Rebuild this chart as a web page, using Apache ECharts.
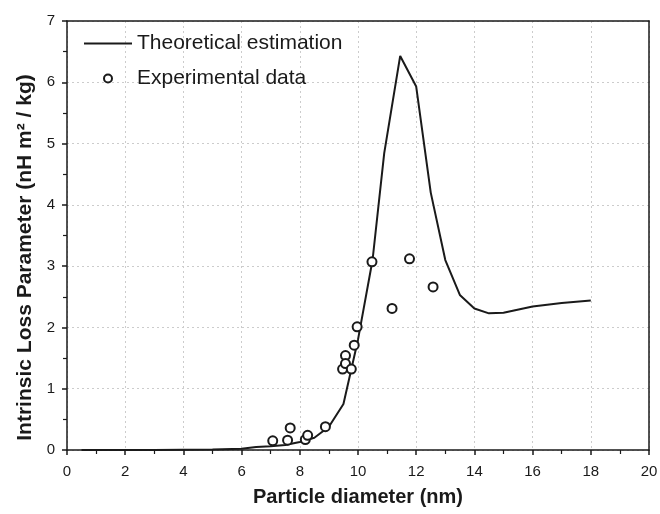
<!DOCTYPE html>
<html><head><meta charset="utf-8">
<script src="https://cdn.jsdelivr.net/npm/echarts@6/dist/echarts.min.js"></script>
<style>html,body{margin:0;padding:0;background:#fff}#c{width:660px;height:514px}</style>
</head><body><div id="c"></div>
<script>
// Theoretical estimation curve
const theoX = [0.5, 1, 2, 3, 4, 5, 6, 6.5, 7, 7.5, 8, 8.5, 9, 9.5, 10, 10.5, 10.9, 11.45, 12, 12.5, 13, 13.5, 14, 14.5, 15, 16, 17, 18];
const theoY = [0.0, 0.0, 0.0, 0.0, 0.005, 0.01, 0.02, 0.05, 0.06, 0.08, 0.13, 0.2, 0.38, 0.75, 1.8, 3.1, 4.84, 6.43, 5.93, 4.2, 3.1, 2.53, 2.31, 2.23, 2.24, 2.34, 2.4, 2.44];
// Experimental data
const expX = [7.07, 7.58, 7.67, 8.19, 8.27, 8.88, 9.47, 9.57, 9.57, 9.77, 9.87, 9.97, 10.48, 11.17, 11.77, 12.58];
const expY = [0.15, 0.16, 0.36, 0.17, 0.24, 0.38, 1.32, 1.54, 1.41, 1.32, 1.71, 2.01, 3.07, 2.31, 3.12, 2.66];
const xTicks = [0, 20, 2];
const yTicks = [0, 7, 1];

const FONT = "'Liberation Sans', Arial, sans-serif";
const INK = '#1a1a1a';
const chart = echarts.init(document.getElementById('c'), null, {renderer: 'canvas'});
const frameAxis = {
  show: true, axisLine: {show: true, onZero: false, lineStyle: {color: INK, width: 1.5}},
  axisTick: {show: false}, axisLabel: {show: false}, splitLine: {show: false}, z: 5
};
chart.setOption({
  animation: false,
  backgroundColor: '#fff',
  grid: {left: 67, right: 11, top: 21, bottom: 64, containLabel: false, outerBoundsMode: 'none'},
  legend: {
    orient: 'vertical', left: 78, top: 27, itemWidth: 48, itemHeight: 8, itemGap: 12,
    textStyle: {fontFamily: FONT, fontSize: 21, color: INK, lineHeight: 23},
    data: [
      {name: 'Theoretical estimation', itemStyle: {opacity: 0}},
      {name: 'Experimental data', icon: 'circle', itemStyle: {color: '#fff', borderColor: INK, borderWidth: 2}}
    ]
  },
  xAxis: [{
    type: 'value', min: xTicks[0], max: xTicks[1], interval: xTicks[2],
    name: 'Particle diameter (nm)', nameLocation: 'middle', nameGap: 37,
    nameTextStyle: {fontFamily: FONT, fontSize: 20, fontWeight: 'bold', color: INK},
    axisLine: {onZero: false, lineStyle: {color: INK, width: 1.5}},
    axisTick: {show: true, inside: false, length: 5, lineStyle: {color: INK, width: 1.5}},
    minorTick: {show: true, splitNumber: 2, length: 4, lineStyle: {color: INK, width: 1.2}},
    axisLabel: {fontFamily: FONT, fontSize: 15, color: INK, margin: 14},
    splitLine: {show: true, lineStyle: {color: '#ccc', type: [2, 3], width: 1}}
  }, Object.assign({type: 'value', position: 'top', min: xTicks[0], max: xTicks[1]}, frameAxis)],
  yAxis: [{
    type: 'value', min: yTicks[0], max: yTicks[1], interval: yTicks[2],
    name: 'Intrinsic Loss Parameter (nH m² / kg)', nameLocation: 'middle', nameGap: 31, nameRotate: 90,
    nameTextStyle: {fontFamily: FONT, fontSize: 21, fontWeight: 'bold', color: INK, padding: [0, 44, 0, 0]},
    axisLine: {onZero: false, lineStyle: {color: INK, width: 1.5}},
    axisTick: {show: true, inside: false, length: 5, lineStyle: {color: INK, width: 1.5}},
    minorTick: {show: true, splitNumber: 2, length: 4, lineStyle: {color: INK, width: 1.2}},
    axisLabel: {fontFamily: FONT, fontSize: 15, color: INK, margin: 12},
    splitLine: {show: true, lineStyle: {color: '#ccc', type: [2, 3], width: 1}}
  }, Object.assign({type: 'value', position: 'right', min: yTicks[0], max: yTicks[1]}, frameAxis)],
  series: [
    {
      name: 'Theoretical estimation', type: 'line', symbol: 'none',
      data: theoX.map((x, i) => [x, theoY[i]]),
      lineStyle: {color: INK, width: 2}, itemStyle: {color: INK}, z: 2
    },
    {
      name: 'Experimental data', type: 'scatter', symbol: 'circle', symbolSize: 9,
      data: expX.map((x, i) => [x, expY[i]]),
      itemStyle: {color: '#fff', borderColor: INK, borderWidth: 2, opacity: 1}, z: 3
    }
  ]
});
</script></body></html>
